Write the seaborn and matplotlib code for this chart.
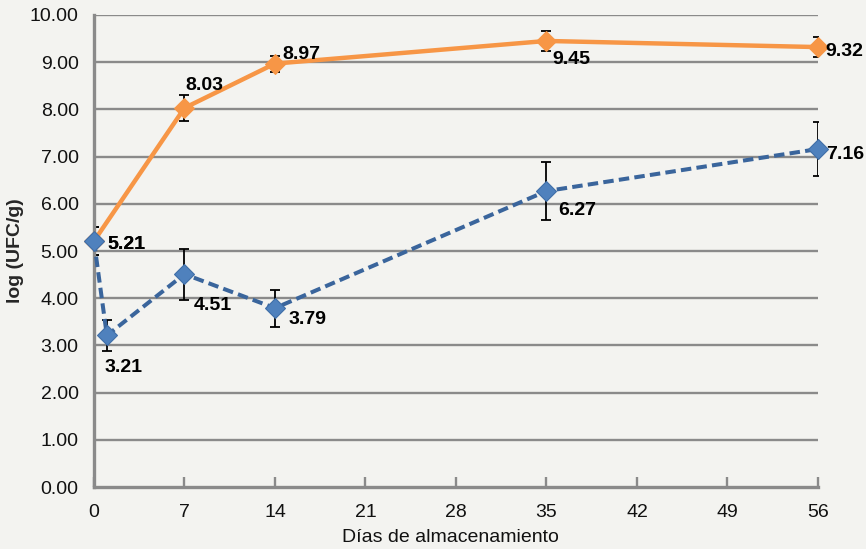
import matplotlib
matplotlib.use("Agg")
import matplotlib.pyplot as plt
import seaborn as sns
import pandas as pd

# Storage days and microbial counts (log CFU/g)
dias_a = [0, 7, 14, 35, 56]
ufc_a = [5.21, 8.03, 8.97, 9.45, 9.32]
err_a = [0.30, 0.27, 0.17, 0.21, 0.22]

dias_b = [0, 1, 7, 14, 35, 56]
ufc_b = [5.21, 3.21, 4.51, 3.79, 6.27, 7.16]
err_b = [0.30, 0.32, 0.54, 0.39, 0.61, 0.57]

x_ticks = [0, 7, 14, 21, 28, 35, 42, 49, 56]
y_ticks = [0, 1, 2, 3, 4, 5, 6, 7, 8, 9, 10]

# value-label offsets in points from the point (dx, dy of the text centre)
off_a = [(10, -0.7), (0.7, 18), (5, 8), (4.3, -11.5), (5, -1.5)]
off_b = [(10, -0.7), (-1.5, -21), (6.5, -21), (10, -6.5), (8.6, -12), (6, -2)]

sns.set_theme(style="white")
plt.rcParams["font.family"] = ["Liberation Sans", "DejaVu Sans"]

bg = "#f3f3f0"
fig = plt.figure(figsize=(8.66, 5.49), dpi=100, facecolor=bg)
ax = fig.add_axes([0.1085, 0.1129, 0.836, 0.8598], facecolor=bg)

orange = "#f79646"
blue_line = "#3a659c"
blue_mark = "#4f81bd"
grid_c = "#8a8a8a"

df_a = pd.DataFrame({"dia": dias_a, "ufc": ufc_a})
df_b = pd.DataFrame({"dia": dias_b, "ufc": ufc_b})

# horizontal gridlines
for y in y_ticks[1:]:
    ax.axhline(y, color=grid_c, lw=1.7, zorder=0)

# error bars, cut off at the plot frame
for xs, ys, es in ((dias_a, ufc_a, err_a), (dias_b, ufc_b, err_b)):
    eb = ax.errorbar(xs, ys, yerr=es, fmt="none", ecolor="black", elinewidth=1.3,
                     capsize=3.5, capthick=1.3, zorder=2)
    for art in list(eb.lines[1]) + list(eb.lines[2]):
        art.set_clip_on(True)
        art.set_clip_path(ax.patch)

sns.lineplot(data=df_a, x="dia", y="ufc", ax=ax, color=orange, lw=3.2,
             marker="D", markersize=10, markerfacecolor=orange, markeredgecolor=orange,
             zorder=3, clip_on=False)
sns.lineplot(data=df_b, x="dia", y="ufc", ax=ax, color=blue_line, lw=2.9,
             linestyle=(0, (2.6, 1.3)), marker="D", markersize=10,
             markerfacecolor=blue_mark, markeredgecolor="#3f6ea8", markeredgewidth=0.8,
             zorder=4, clip_on=False)

# the text centre sits ~5 pt above the baseline for these digits
for xs, ys, offs in ((dias_a, ufc_a, off_a), (dias_b, ufc_b, off_b)):
    for x, y, (dx, dy) in zip(xs, ys, offs):
        ax.annotate(f"{y:.2f}", (x, y), xytext=(dx, dy - 5), textcoords="offset points",
                    ha="left", va="baseline", fontsize=14, fontweight="bold",
                    color="black", annotation_clip=False, zorder=5)

ax.set_xlim(0, 56)
ax.set_ylim(0, 10)
ax.set_xticks(x_ticks)
ax.set_yticks(y_ticks)
ax.set_xticklabels([str(t) for t in x_ticks], fontsize=14, color="#111111")
ax.set_yticklabels([f"{t:.2f}" for t in y_ticks], fontsize=14, color="#111111")
ax.tick_params(axis="x", direction="in", length=7, width=1.7, color=grid_c, pad=12,
               bottom=True)
ax.tick_params(axis="y", length=0, pad=11)

for s in ["top", "right"]:
    ax.spines[s].set_visible(False)
for s in ["left", "bottom"]:
    ax.spines[s].set_color(grid_c)
    ax.spines[s].set_linewidth(2.4)

ax.set_xlabel("Días de almacenamiento", fontsize=14, color="#111111", va="center")
ax.xaxis.set_label_coords(0.493, -0.108)
ax.set_ylabel("log (UFC/g)", fontsize=14, fontweight="bold", va="center")
ax.yaxis.set_label_coords(-0.109, 0.5)

fig.savefig("out.png", dpi=100, facecolor=bg)
